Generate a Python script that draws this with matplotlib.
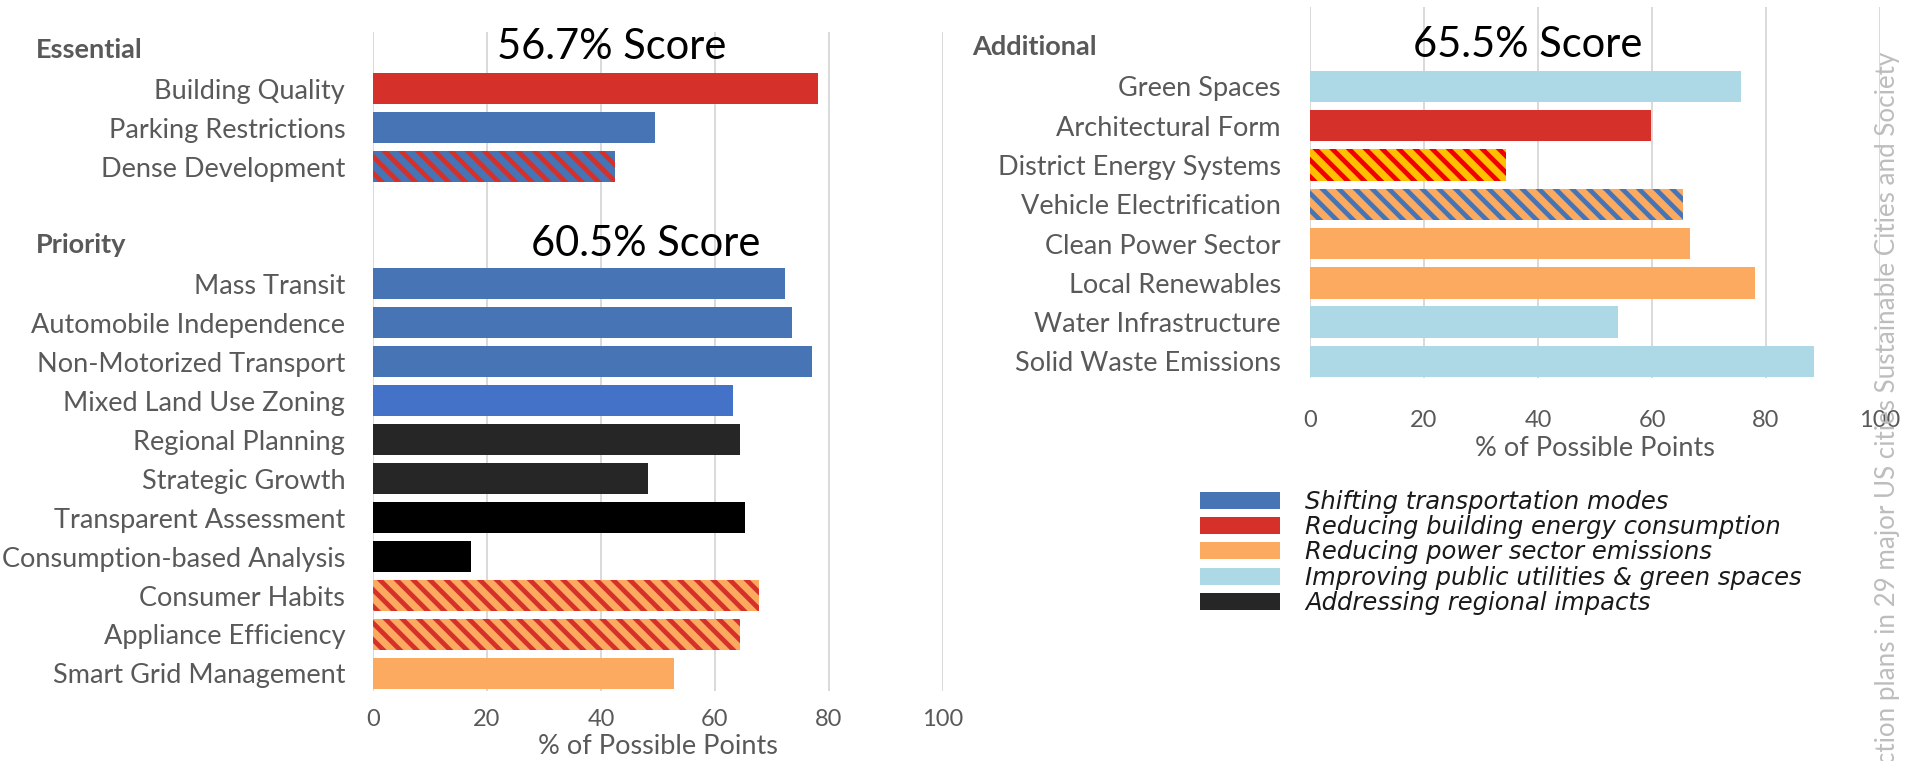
import matplotlib
matplotlib.use("Agg")
import matplotlib.pyplot as plt
from matplotlib.patches import Patch
from matplotlib.transforms import blended_transform_factory

plt.rcParams['font.family'] = ['Lato', 'DejaVu Sans']
plt.rcParams['hatch.linewidth'] = 3.4

# ---- data -------------------------------------------------------------
essential_labels = ["Building Quality", "Parking Restrictions", "Dense Development"]
essential_values = [78.0, 49.4, 42.4]
essential_themes = ["building", "transport", "transport+building"]

priority_labels = ["Mass Transit", "Automobile Independence", "Non-Motorized Transport",
                   "Mixed Land Use Zoning", "Regional Planning", "Strategic Growth",
                   "Transparent Assessment", "Consumption-based Analysis",
                   "Consumer Habits", "Appliance Efficiency", "Smart Grid Management"]
priority_values = [72.3, 73.5, 77.1, 63.2, 64.4, 48.2, 65.3, 17.2, 67.8, 64.3, 52.8]
priority_themes = ["transport", "transport", "transport", "transport_alt", "regional",
                   "regional", "regional_alt", "regional_alt", "power+building",
                   "power+building", "power"]

additional_labels = ["Green Spaces", "Architectural Form", "District Energy Systems",
                     "Vehicle Electrification", "Clean Power Sector", "Local Renewables",
                     "Water Infrastructure", "Solid Waste Emissions"]
additional_values = [75.7, 59.9, 34.3, 65.4, 66.6, 78.0, 54.0, 88.4]
additional_themes = ["utilities", "building", "district", "power+transport", "power",
                     "power", "utilities", "utilities"]

group_titles = ["Essential", "Priority", "Additional"]
group_scores = ["56.7% Score", "60.5% Score", "65.5% Score"]
x_ticks = [0, 20, 40, 60, 80, 100]
x_title = "% of Possible Points"

legend_labels = ["Shifting transportation modes",
                 "Reducing building energy consumption",
                 "Reducing power sector emissions",
                 "Improving public utilities & green spaces",
                 "Addressing regional impacts"]
legend_themes = ["transport", "building", "power", "utilities", "regional"]

source_note = "Climate action plans in 29 major US cities Sustainable Cities and Society"

# ---- styles -----------------------------------------------------------
THEMES = {
    "transport": ("#4674B5", None),
    "transport_alt": ("#4472C8", None),
    "building": ("#D5312A", None),
    "power": ("#FBAA5F", None),
    "utilities": ("#ADD8E6", None),
    "regional": ("#262626", None),
    "regional_alt": ("#000000", None),
    "transport+building": ("#4674B5", "#D5312A"),
    "power+building": ("#FBAA5F", "#D5312A"),
    "district": ("#FFC000", "#F00000"),
    "power+transport": ("#FBAA5F", "#4674B5"),
}
LABEL_GRAY = "#595959"
GRID_GRAY = "#D9D9D9"
FS = 19.5      # category labels, group headers, axis titles
FS_TICK = 17

W, H = 1907, 761
fig = plt.figure(figsize=(W / 100, H / 100), dpi=100)


def px_axes(x0, x1, ytop, ybot):
    return fig.add_axes([x0 / W, 1 - ybot / H, (x1 - x0) / W, (ybot - ytop) / H])


def draw_bars(ax, rows, values, themes):
    for y, v, t in zip(rows, values, themes):
        face, stripe = THEMES[t]
        if stripe:
            ax.barh(y, v, height=0.8, color=face, edgecolor=stripe,
                    linewidth=0, hatch='\\\\', zorder=2)
        else:
            ax.barh(y, v, height=0.8, color=face, linewidth=0, zorder=2)


def style_axes(ax, ylim, ypad, xpad):
    ax.set_xlim(0, 100)
    ax.set_ylim(*ylim)
    ax.set_xticks(x_ticks)
    ax.grid(axis='x', color=GRID_GRAY, linewidth=1.4, zorder=0)
    ax.grid(axis='y', visible=False)
    ax.set_axisbelow(True)
    for s in ax.spines.values():
        s.set_visible(False)
    ax.tick_params(axis='both', length=0, labelcolor=LABEL_GRAY)
    ax.tick_params(axis='y', pad=ypad, labelsize=FS)
    ax.tick_params(axis='x', pad=xpad, labelsize=FS_TICK)


# ---- left panel: essential + priority ---------------------------------
axL = px_axes(373, 943, 32, 691)
ess_rows = [1 + i for i in range(len(essential_labels))]
pri_rows = [6 + i for i in range(len(priority_labels))]
draw_bars(axL, ess_rows, essential_values, essential_themes)
draw_bars(axL, pri_rows, priority_values, priority_themes)
axL.set_yticks(ess_rows + pri_rows, essential_labels + priority_labels)
style_axes(axL, (16.45, -0.46), 20, 13)

trL = blended_transform_factory(fig.transFigure, axL.transData)
axL.text(36 / W, 0, group_titles[0], transform=trL, ha='left', va='center',
         fontsize=FS, fontweight='bold', color=LABEL_GRAY)
axL.text(36 / W, 5, group_titles[1], transform=trL, ha='left', va='center',
         fontsize=FS, fontweight='bold', color=LABEL_GRAY)
fig.text(658 / W, 1 - 746 / H, x_title, ha='center', va='center',
         fontsize=FS, color=LABEL_GRAY)

# ---- right panel: additional ------------------------------------------
axR = px_axes(1310, 1880, 7, 378)
add_rows = [1 + i for i in range(len(additional_labels))]
draw_bars(axR, add_rows, additional_values, additional_themes)
axR.set_yticks(add_rows, additional_labels)
style_axes(axR, (8.42, -1.02), 21, 23)

trR = blended_transform_factory(fig.transFigure, axR.transData)
axR.text(972 / W, 0, group_titles[2], transform=trR, ha='left', va='center',
         fontsize=FS, fontweight='bold', color=LABEL_GRAY)
fig.text(1595 / W, 1 - 448 / H, x_title, ha='center', va='center',
         fontsize=FS, color=LABEL_GRAY)

# ---- score annotations ------------------------------------------------
for (x, y), s in zip([(612, 47), (646, 244), (1528, 45)], group_scores):
    fig.text(x / W, 1 - y / H, s, ha='center', va='center', fontsize=30, color='black')

# ---- legend -----------------------------------------------------------
handles = [Patch(facecolor=THEMES[t][0], edgecolor='none') for t in legend_themes]
fig.legend(handles, legend_labels, loc='upper left',
           bbox_to_anchor=(1200 / W, 1 - 490 / H), frameon=False,
           prop={'family': 'DejaVu Sans', 'style': 'italic', 'size': 17.5},
           labelcolor='#1A1A1A', handlelength=3.3, handleheight=0.7,
           handletextpad=1.03, labelspacing=0.05, borderpad=0, borderaxespad=0)

# ---- vertical source note ---------------------------------------------
fig.text(1888 / W, 1 - 52 / H, source_note, rotation=90, ha='center', va='top',
         fontsize=18.7, color='#BDBDBD')

fig.savefig("out.png", dpi=100)
